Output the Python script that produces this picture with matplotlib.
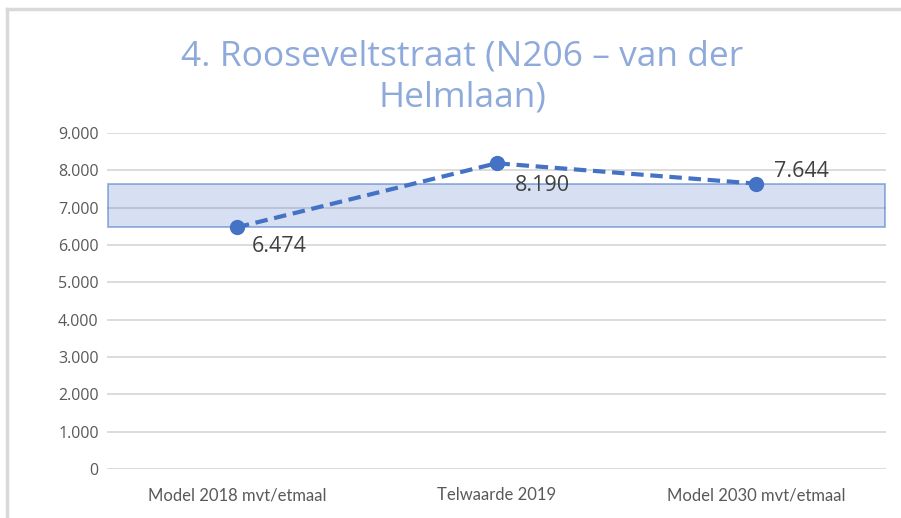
import matplotlib
matplotlib.use("Agg")
import matplotlib.pyplot as plt
from matplotlib.lines import Line2D

title = "4. Rooseveltstraat (N206 – van der\nHelmlaan)"
categories = ["Model 2018 mvt/etmaal", "Telwaarde 2019", "Model 2030 mvt/etmaal"]
values = [6474, 8190, 7644]
band_low = 6474
band_high = 7644
y_max = 9000
y_step = 1000

plt.rcParams['font.family'] = ['Lato', 'DejaVu Sans']

fig = plt.figure(figsize=(9.01, 5.18), dpi=100)
ax = fig.add_axes([0.1188, 0.0946, 0.8646, 0.6486])

x = list(range(len(categories)))
ax.set_xlim(-0.5, len(categories) - 0.5)
ax.set_ylim(0, y_max)
yticks = list(range(0, y_max + 1, y_step))
ax.set_yticks(yticks, labels=[f"{v:,}".replace(",", ".") for v in yticks],
              fontfamily=['Open Sans', 'DejaVu Sans'], fontsize=11.5, color='#595959')
ax.grid(axis='y', color='#D9D9D9', linewidth=1.3, zorder=0)
ax.set_axisbelow(True)
for s in ax.spines.values():
    s.set_visible(False)
ax.tick_params(length=0)
ax.tick_params(axis='y', pad=6)
ax.set_xticks(x)
ax.set_xticklabels(categories)
ax.tick_params(axis='x', pad=13, labelsize=12, labelcolor='#595959')

ax.axhspan(band_low, band_high, xmin=0.0015, xmax=0.999,
           facecolor=(0.27, 0.45, 0.77, 0.22), edgecolor=(0.27, 0.45, 0.77, 0.55),
           linewidth=1.3, zorder=1)

ax.plot(x, values, color='#4472C4', linewidth=3, linestyle=(0, (3, 1.6)),
        marker='o', markersize=10, zorder=3)

offsets = [(11, -14), (13, -16), (13, 9)]
for xi, v, off in zip(x, values, offsets):
    ax.annotate(f"{v:,}".replace(",", "."), (xi, v), xytext=off, textcoords='offset points',
                ha='left', va='center', fontsize=15.5, color='#404040', zorder=4,
                family=['Open Sans', 'DejaVu Sans'])

fig.text(0.513, 0.851, title, ha='center', va='center', fontsize=25.5, color='#8EAADB',
         linespacing=1.27, family=['Open Sans', 'DejaVu Sans'])

fig.add_artist(Line2D([7/901, 7/901], [0, 1 - 9/518], transform=fig.transFigure,
                      color='#D9D9D9', linewidth=2.5))
fig.add_artist(Line2D([7/901, 1], [1 - 9/518, 1 - 9/518], transform=fig.transFigure,
                      color='#D9D9D9', linewidth=2.5))

fig.savefig("out.png", dpi=100)
